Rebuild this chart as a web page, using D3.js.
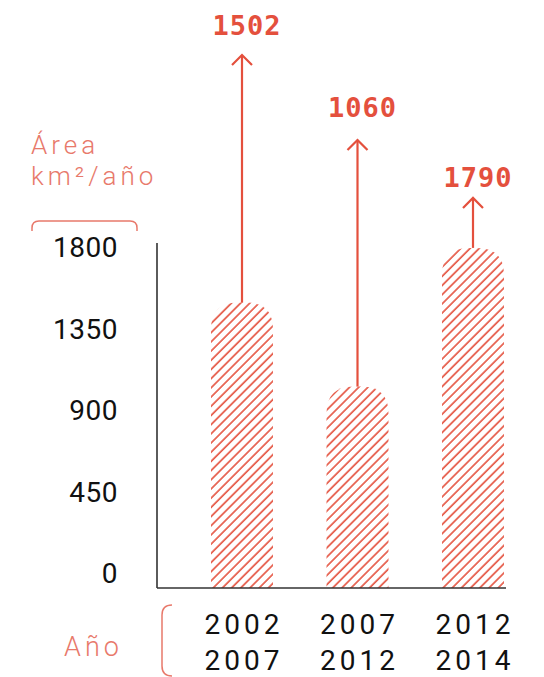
<!DOCTYPE html>
<html>
<head>
<meta charset="utf-8">
<script src="https://cdn.jsdelivr.net/npm/d3@7"></script>
<style>
  body { margin: 0; background: #fff; }
  svg { display: block; }
</style>
</head>
<body>
<svg id="chart" width="544" height="677"></svg>
<script>
// data
const periods = [['2002', '2007'], ['2007', '2012'], ['2012', '2014']];
const areaValues = [1502, 1060, 1790];
const arrowTops = [2805, 2358, 2053];   // arrow tip level, in chart units
const labelLevels = [2911, 2479, 2111]; // value label baseline, in chart units
const yTicks = [0, 450, 900, 1350, 1800];

const red = '#e4503d';
const soft = '#e8796b';

const svg = d3.select('#chart');

const baseY = 588;
const y = d3.scaleLinear().domain([0, 1800]).range([baseY, 246]);
// tick labels sit a bit above the baseline in the original
const yLab = d3.scaleLinear().domain([0, 1800]).range([573, 247]);
const x = d3.scalePoint().domain(d3.range(periods.length)).range([242, 473]);
const barW = 62;
const r = 27;

// hatch pattern
const defs = svg.append('defs');
defs.append('pattern')
    .attr('id', 'hatch')
    .attr('patternUnits', 'userSpaceOnUse')
    .attr('width', 6.5)
    .attr('height', 6.5)
    .attr('patternTransform', 'rotate(45)')
    .append('line')
    .attr('x1', 1).attr('y1', 0)
    .attr('x2', 1).attr('y2', 6.5)
    .attr('stroke', red)
    .attr('stroke-width', 1.6);

// bars
svg.append('g').selectAll('path')
    .data(areaValues)
    .enter().append('path')
    .attr('fill', 'url(#hatch)')
    .attr('d', (d, i) => {
        const x0 = x(i) - barW / 2, x1 = x(i) + barW / 2, t = y(d);
        return `M${x0},${baseY} L${x0},${t + r} Q${x0},${t} ${x0 + r},${t} L${x1 - r},${t} Q${x1},${t} ${x1},${t + r} L${x1},${baseY} Z`;
    });

// axes
svg.append('line')
    .attr('x1', 157).attr('x2', 157)
    .attr('y1', 243).attr('y2', baseY)
    .attr('stroke', '#333').attr('stroke-width', 1.6);
svg.append('line')
    .attr('x1', 157).attr('x2', 506)
    .attr('y1', baseY).attr('y2', baseY)
    .attr('stroke', '#333').attr('stroke-width', 1.6);

svg.append('g').selectAll('text')
    .data(yTicks)
    .enter().append('text')
    .attr('x', 118)
    .attr('y', d => yLab(d))
    .attr('dy', '0.36em')
    .attr('text-anchor', 'end')
    .attr('font-family', 'Roboto, sans-serif')
    .attr('font-size', 28)
    .attr('letter-spacing', 0.5)
    .attr('fill', '#111')
    .text(d => d);

// arrows
const arrows = svg.append('g')
    .attr('stroke', red)
    .attr('stroke-width', 2.2)
    .attr('fill', 'none');
areaValues.forEach((d, i) => {
    const cx = x(i), top = y(arrowTops[i]);
    arrows.append('line')
        .attr('x1', cx).attr('x2', cx)
        .attr('y1', y(d)).attr('y2', top);
    arrows.append('path')
        .attr('d', `M${cx - 10},${top + 10} L${cx},${top} L${cx + 10},${top + 10}`);
});

svg.append('g').selectAll('text')
    .data(areaValues)
    .enter().append('text')
    .attr('x', (d, i) => x(i) + 5)
    .attr('y', (d, i) => y(labelLevels[i]))
    .attr('text-anchor', 'middle')
    .attr('font-family', 'DejaVu Sans Mono, monospace')
    .attr('font-weight', 'bold')
    .attr('font-size', 27)
    .attr('letter-spacing', 1)
    .attr('fill', red)
    .text(d => d);

// category labels
const cat = svg.append('g').selectAll('text')
    .data(periods)
    .enter().append('text')
    .attr('text-anchor', 'middle')
    .attr('font-family', 'Roboto, sans-serif')
    .attr('font-size', 28)
    .attr('letter-spacing', 4)
    .attr('fill', '#111');
cat.append('tspan').attr('x', (d, i) => x(i) + 2).attr('y', 634).text(d => d[0]);
cat.append('tspan').attr('x', (d, i) => x(i) + 2).attr('y', 670).text(d => d[1]);

// axis titles
const title = svg.append('text')
    .attr('font-family', 'Roboto, sans-serif')
    .attr('font-weight', 300)
    .attr('font-size', 26)
    .attr('letter-spacing', 4)
    .attr('fill', soft);
title.append('tspan').attr('x', 31).attr('y', 154).text('Área');
title.append('tspan').attr('x', 31).attr('y', 185).text('km²/año');

svg.append('path')
    .attr('d', 'M32,231 L32,228 Q32,221 39,221 L130,221 Q137,221 137,228 L137,231')
    .attr('fill', 'none').attr('stroke', soft).attr('stroke-width', 1.5);

svg.append('text')
    .attr('x', 64).attr('y', 656)
    .attr('font-family', 'Roboto, sans-serif')
    .attr('font-weight', 300)
    .attr('font-size', 27)
    .attr('letter-spacing', 4)
    .attr('fill', soft)
    .text('Año');

svg.append('path')
    .attr('d', 'M172,605 Q162,605 162,615 L162,666 Q162,676 172,676')
    .attr('fill', 'none').attr('stroke', soft).attr('stroke-width', 1.5);
</script>
</body>
</html>
